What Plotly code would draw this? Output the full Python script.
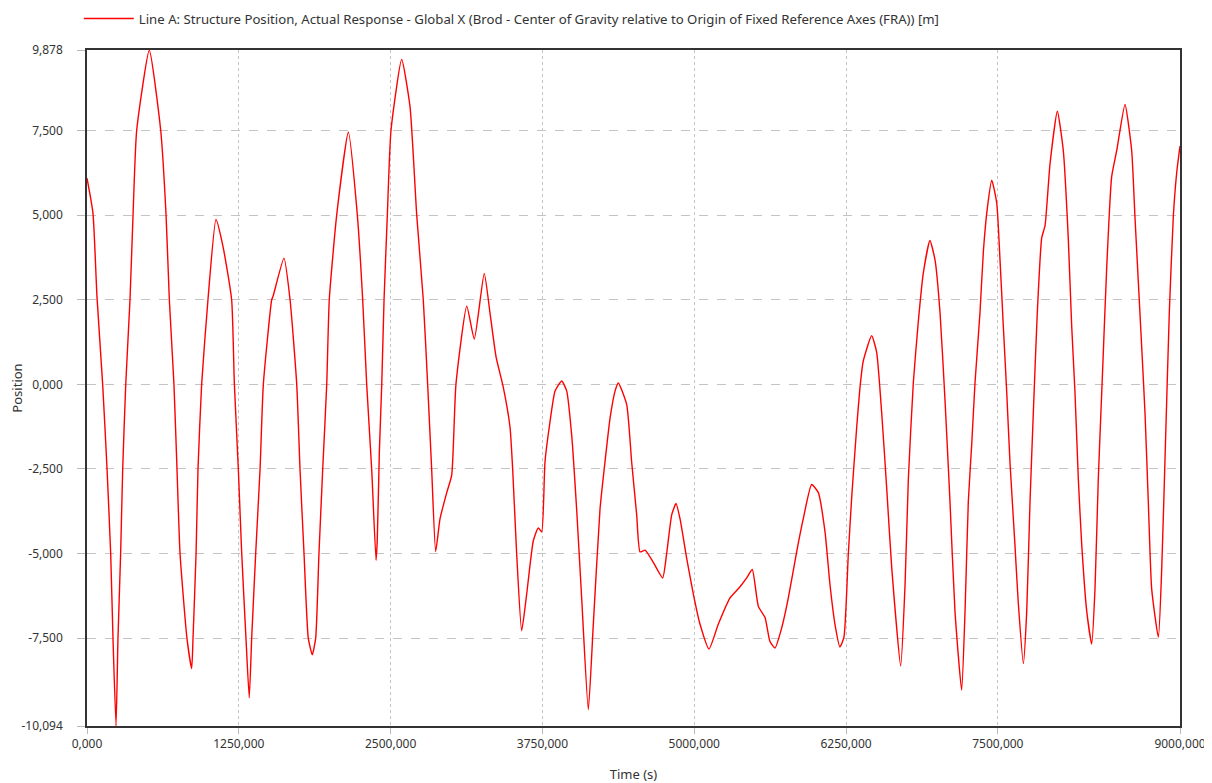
import plotly.graph_objects as go

# Time (s) and Global X position (m)
time_s = [0, 49, 82, 129, 165, 195, 214, 239, 255, 277, 294, 319, 354, 379, 409, 513,
          607, 651, 678, 716, 741, 766, 823, 862, 873, 898, 914, 944, 996, 1062, 1120,
          1191, 1213, 1246, 1274, 1309, 1336, 1356, 1389, 1425, 1452, 1521, 1532, 1622,
          1672, 1727, 1754, 1787, 1822, 1855, 1883, 1910, 1941, 1974, 1995, 2056, 2152,
          2226, 2270, 2303, 2344, 2380, 2390, 2407, 2427, 2446, 2473, 2503, 2591, 2660,
          2715, 2769, 2805, 2838, 2871, 2907, 2962, 3003, 3038, 3127, 3189, 3271, 3318,
          3368, 3428, 3483, 3505, 3538, 3579, 3621, 3675, 3716, 3744, 3771, 3812, 3854,
          3909, 3950, 3991, 4032, 4073, 4128, 4169, 4224, 4265, 4307, 4348, 4375, 4444,
          4485, 4526, 4554, 4595, 4663, 4740, 4773, 4815, 4850, 4883, 4938, 4992, 5048,
          5122, 5198, 5295, 5377, 5432, 5478, 5528, 5583, 5624, 5665, 5720, 5775, 5844,
          5898, 5967, 6022, 6077, 6118, 6159, 6200, 6233, 6269, 6297, 6338, 6365, 6392,
          6461, 6502, 6544, 6585, 6626, 6700, 6736, 6763, 6804, 6845, 6886, 6941, 6983,
          7024, 7065, 7106, 7147, 7202, 7230, 7257, 7285, 7312, 7353, 7381, 7414, 7450,
          7491, 7518, 7545, 7573, 7600, 7641, 7668, 7710, 7738, 7765, 7792, 7825, 7861,
          7889, 7930, 7990, 8039, 8080, 8108, 8135, 8163, 8191, 8232, 8273, 8300, 8327,
          8363, 8396, 8437, 8479, 8547, 8602, 8629, 8657, 8685, 8712, 8739, 8767, 8822,
          8850, 8877, 8912, 8945, 8973, 9000]

position_m = [6.09, 5.06, 2.6, 0.0, -2.5, -5.0, -7.5, -10.09, -7.5, -5.0, -2.5, 0.0, 2.5,
              5.0, 7.5, 9.87, 7.5, 5.0, 2.5, 0.0, -2.5, -5.0, -7.5, -8.4, -7.5, -5.0, -2.5,
              0.0, 2.5, 4.87, 4.07, 2.5, 0.05, -2.5, -5.0, -7.5, -9.26, -7.5, -5.0, -2.5,
              0.0, 2.5, 2.6, 3.73, 2.5, 0.0, -2.5, -5.0, -7.5, -7.99, -7.5, -5.0, -2.5, 0.0,
              2.5, 5.0, 7.45, 5.0, 2.5, 0.0, -2.5, -5.2, -4.62, -2.03, 0.0, 2.5, 5.0, 7.5,
              9.6, 8.2, 5.0, 2.5, 0.0, -2.5, -4.94, -3.97, -3.2, -2.68, 0.0, 2.31, 1.34,
              3.28, 2.12, 0.82, -0.09, -1.26, -2.5, -5.01, -7.28, -6.18, -4.62, -4.24,
              -4.36, -2.3, -1.12, -0.2, 0.1, -0.2, -1.5, -3.7, -6.3, -9.61, -7.1, -3.7,
              -2.3, -1.0, -0.2, 0.04, -0.6, -2.3, -3.85, -4.95, -4.9, -5.26, -5.72, -5.0,
              -3.85, -3.52, -3.97, -5.14, -6.18, -7.09, -7.82, -7.09, -6.31, -5.98, -5.72,
              -5.47, -6.56, -6.89, -7.6, -7.79, -7.2, -6.31, -4.94, -3.97, -2.96, -3.2,
              -4.36, -5.92, -7.09, -7.76, -7.47, -5.0, -3.32, -1.26, -0.09, 0.69, 1.44,
              0.95, -0.86, -3.07, -5.4, -8.32, -5.92, -2.81, 0.04, 1.85, 3.28, 4.25, 3.67,
              2.12, -0.47, -3.46, -6.7, -9.03, -6.7, -3.46, -1.77, 0.04, 2.12, 3.93, 5.22,
              6.03, 5.35, 3.67, 1.73, -0.22, -2.3, -4.75, -6.44, -8.25, -6.7, -3.46, -0.86,
              2.12, 4.32, 4.7, 6.52, 8.07, 6.91, 4.32, 1.73, -0.22, -2.81, -4.75, -6.7,
              -7.67, -6.05, -2.81, 0.43, 3.41, 6.13, 6.91, 8.27, 6.91, 4.96, 3.02, 1.08,
              -0.86, -3.46, -6.05, -7.47, -5.4, -2.16, 2.12, 4.96, 6.26, 7.04]

x_tick_vals = [0, 1250, 2500, 3750, 5000, 6250, 7500, 9000]
x_tick_text = ["0,000", "1250,000", "2500,000", "3750,000", "5000,000", "6250,000",
               "7500,000", "9000,000"]
y_tick_vals = [9.878, 7.5, 5.0, 2.5, 0.0, -2.5, -5.0, -7.5, -10.094]
y_tick_text = ["9,878", "7,500", "5,000", "2,500", "0,000", "-2,500", "-5,000",
               "-7,500", "-10,094"]

series_name = ("Line A: Structure Position, Actual Response - Global X (Brod - Center of "
               "Gravity relative to Origin of Fixed Reference Axes (FRA)) [m]")

FONT = "Noto Sans"
TXT = "#333333"

fig = go.Figure()
fig.add_trace(go.Scatter(
    x=time_s, y=position_m, mode="lines", name=series_name,
    line=dict(color="#ff0000", width=1.4, shape="spline", smoothing=0.5),
    showlegend=True,
))

# the page body has an 8px margin, so the figure is sized to fit the 1212x783 window
fig.update_layout(
    width=1204, height=775,
    margin=dict(l=79, r=32, t=42, b=57, autoexpand=False),
    paper_bgcolor="white", plot_bgcolor="white",
    font=dict(family=FONT, size=12, color=TXT),
    showlegend=True,
    legend=dict(orientation="h", x=-0.0075, xanchor="left", y=1.046, yanchor="middle",
                font=dict(family=FONT, size=13.2, color=TXT), itemwidth=50,
                bgcolor="rgba(0,0,0,0)"),
    xaxis=dict(
        range=[0, 9000], tickmode="array", tickvals=x_tick_vals, ticktext=x_tick_text,
        showgrid=True, gridcolor="#c4c4c4", griddash="dot", gridwidth=1,
        zeroline=False, showline=True, linecolor="#333333", linewidth=1.5, mirror=True,
        ticks="outside", ticklen=6, tickcolor="#bbbbbb", automargin=False,
        tickfont=dict(family=FONT, size=12, color=TXT),
        title=dict(text="Time (s)", font=dict(family=FONT, size=13, color=TXT), standoff=19),
    ),
    yaxis=dict(
        range=[-10.094, 9.878], tickmode="array", tickvals=y_tick_vals, ticktext=y_tick_text,
        showgrid=True, gridcolor="#c4c4c4", griddash="dash", gridwidth=1,
        zeroline=False, showline=True, linecolor="#333333", linewidth=1.5, mirror=True,
        ticks="outside", ticklen=8, tickcolor="#bbbbbb", ticklabelstandoff=12,
        automargin=False,
        tickfont=dict(family=FONT, size=12, color=TXT),
        title=dict(text="Position", font=dict(family=FONT, size=13, color=TXT), standoff=0),
    ),
)

fig.write_html("out.html")
